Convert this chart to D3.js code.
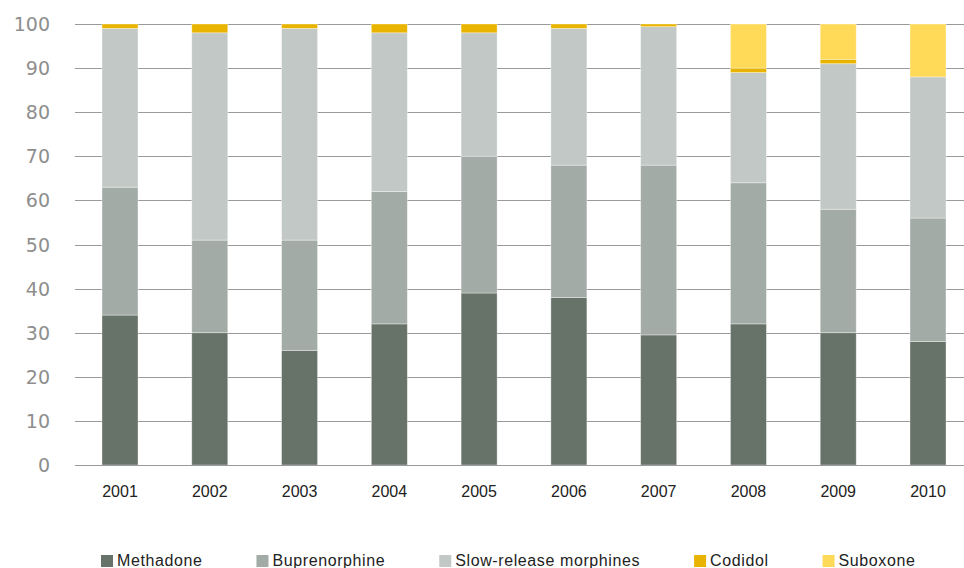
<!DOCTYPE html>
<html><head><meta charset="utf-8">
<script src="https://cdn.jsdelivr.net/npm/d3@7"></script>
<style>body{margin:0;background:#fff}svg{display:block}</style>
</head><body><svg id="c" width="964" height="568"></svg>
<script>
const years = ["2001","2002","2003","2004","2005","2006","2007","2008","2009","2010"];
const seriesNames = ["Methadone","Buprenorphine","Slow-release morphines","Codidol","Suboxone"];
const methadone = [34,30,26,32,39,38,29.5,32,30,28];
const buprenorphine = [29,21,25,30,31,30,38.5,32,28,28];
const slowRelease = [36,47,48,36,28,31,31.4,25,33,32];
const codidol = [1,2,1,2,2,1,0.6,1,1,0];
const suboxone = [0,0,0,0,0,0,0,10,8,12];
const yTicks = [0,10,20,30,40,50,60,70,80,90,100];
const colors = ["#677268","#a3aba6","#c2c8c5","#e8b400","#ffd958"];

const svg = d3.select("#c");
const values = [methadone,buprenorphine,slowRelease,codidol,suboxone];
const rows = years.map((y,i)=>{const r={year:y}; seriesNames.forEach((s,j)=>r[s]=values[j][i]); return r;});
const stack = d3.stack().keys(seriesNames)(rows);

const y = d3.scaleLinear().domain([0,100]).range([465,24]);
const x = d3.scalePoint().domain(years).range([120,928]);
const bw = 36;

// gridlines
svg.append("g").selectAll("line").data(yTicks).join("line")
  .attr("x1",75).attr("x2",964)
  .attr("y1",d=>Math.round(y(d))+0.5).attr("y2",d=>Math.round(y(d))+0.5)
  .attr("stroke","#9a9a9a").attr("stroke-width",1);

// y labels
svg.append("g").selectAll("text").data(yTicks).join("text")
  .attr("x",50).attr("y",d=>y(d)).attr("text-anchor","end").attr("dominant-baseline","central")
  .attr("font-family","DejaVu Sans, sans-serif").attr("font-size",19).attr("fill","#8e8e8e")
  .text(d=>d);

// bars
svg.append("g").selectAll("g").data(stack).join("g")
  .attr("fill",(d,i)=>colors[i])
  .selectAll("rect").data(d=>d).join("rect")
  .attr("x",d=>x(d.data.year)-bw/2).attr("width",bw)
  .attr("y",d=>y(d[1])).attr("height",d=>Math.max(0,y(d[0])-y(d[1])))
  .attr("stroke","rgba(255,255,255,0.45)").attr("stroke-width",0.8);

// baseline
svg.append("line").attr("x1",75).attr("x2",964).attr("y1",Math.round(y(0))+0.5).attr("y2",Math.round(y(0))+0.5)
  .attr("stroke","#9a9a9a");

// x labels
svg.append("g").selectAll("text").data(years).join("text")
  .attr("x",d=>x(d)).attr("y",491).attr("text-anchor","middle").attr("dominant-baseline","central")
  .attr("font-family","Liberation Sans, sans-serif").attr("font-size",16).attr("fill","#222")
  .text(d=>d);

// legend
const lg = svg.append("g");
let lx = 101;
seriesNames.forEach((s,i)=>{
  lg.append("rect").attr("x",lx).attr("y",555).attr("width",12).attr("height",12).attr("fill",colors[i]);
  const t = lg.append("text").attr("x",lx+16).attr("y",566)
    .attr("font-family","Liberation Sans, sans-serif").attr("font-size",16).attr("letter-spacing",0.6)
    .attr("fill","#222").text(s);
  lx += 16 + t.node().getComputedTextLength() + 54;
});
</script></body></html>
